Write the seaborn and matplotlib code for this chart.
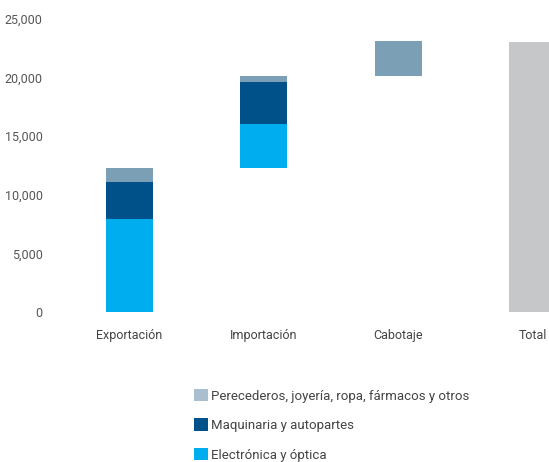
import matplotlib
matplotlib.use("Agg")
import matplotlib.pyplot as plt
from matplotlib.patches import Patch
from matplotlib.ticker import FuncFormatter
import seaborn as sns
import numpy as np
import pandas as pd

categories = ["Exportación", "Importación", "Cabotaje", "Total"]
base = [0, 12300, 20150, 0]
electronica = [7950, 3750, 0, 0]
maquinaria = [3150, 3570, 0, 0]
perecederos = [1200, 530, 2950, 0]
total = [0, 0, 0, 23000]

series_names = ["Electrónica y óptica", "Maquinaria y autopartes",
                "Perecederos, joyería, ropa, fármacos y otros", "Total"]
bar_colors = ["#00aeef", "#00518a", "#7b9fb4", "#c6c7c9"]
legend_colors = ["#a9bfd0", "#00518a", "#00aeef"]

yticks = [0, 5000, 10000, 15000, 20000, 25000]

sns.set_theme(style="white")
plt.rcParams["font.family"] = ["Roboto", "DejaVu Sans"]

fig = plt.figure(figsize=(5.49, 4.62), dpi=100)
ax = fig.add_axes([62 / 549, 150 / 462, 487 / 549, 293 / 462])

bottom = np.array(base, dtype=float)
for name, vals, col in zip(series_names, [electronica, maquinaria, perecederos, total], bar_colors):
    df = pd.DataFrame({"cat": categories, "val": vals})
    sns.barplot(data=df, x="cat", y="val", color=col, width=0.35,
                bottom=bottom.copy(), saturation=1, ax=ax, linewidth=0)
    bottom += np.array(vals)

ax.set_xlim(-0.5, (549 - 129.5) / 134.5)
ax.set_ylim(0, 25000)
ax.set_yticks(yticks)
ax.yaxis.set_major_formatter(FuncFormatter(lambda v, p: f"{int(v):,}"))
ax.set_xlabel("")
ax.set_ylabel("")
for s in ax.spines.values():
    s.set_visible(False)
ax.tick_params(axis="y", length=0, pad=14, labelsize=9, labelcolor="#555555")
ax.tick_params(axis="x", length=0, pad=12, labelsize=9, labelcolor="#444444")

handles = [Patch(facecolor=c, edgecolor="none") for c in legend_colors]
labels = [series_names[2], series_names[1], series_names[0]]
fig.legend(handles, labels, loc="upper left", bbox_to_anchor=(194 / 549, 1 - 389 / 462),
           frameon=False, fontsize=9.5, handlelength=1.05, handleheight=1.05,
           handletextpad=0.25, labelspacing=1.2, labelcolor="#444444",
           borderpad=0, borderaxespad=0)

fig.savefig("out.png", dpi=100)
